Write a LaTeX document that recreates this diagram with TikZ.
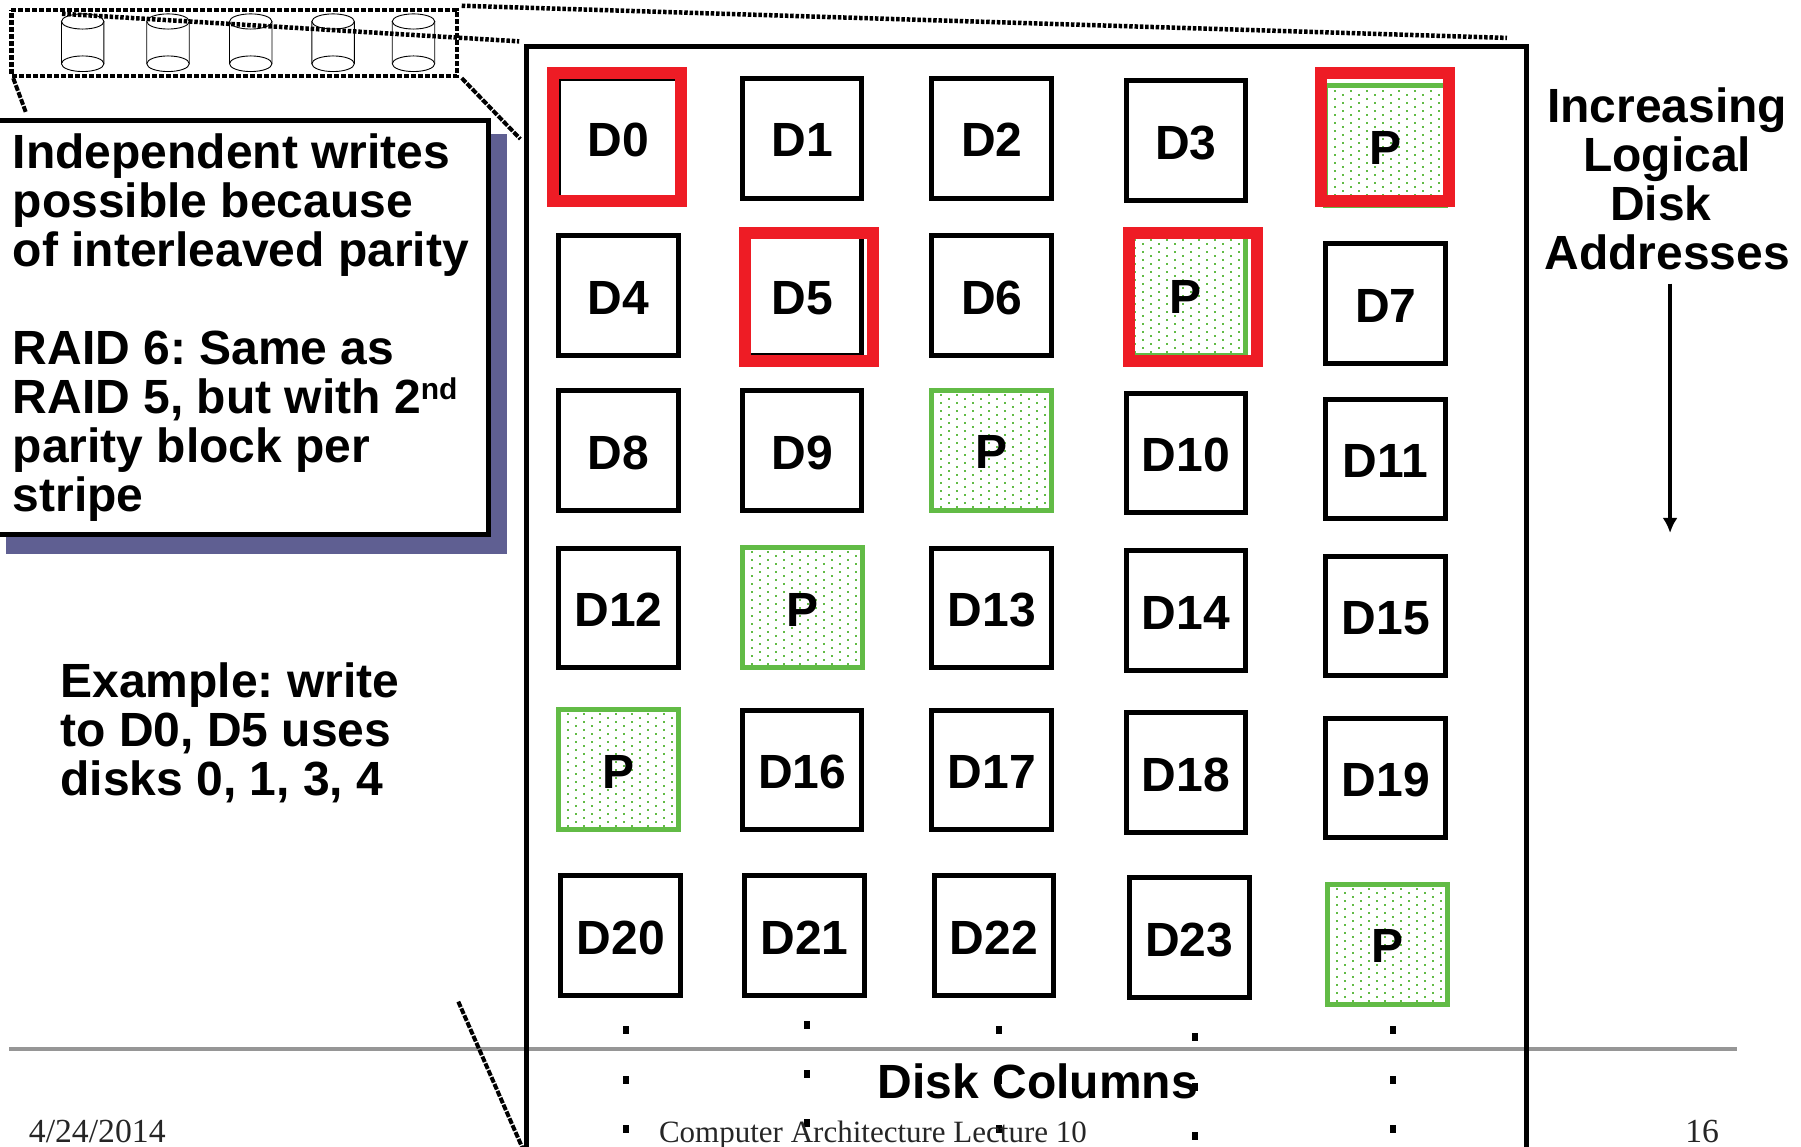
\documentclass[tikz,border=0pt]{standalone}
\usepackage{fontspec}
\usetikzlibrary{arrows.meta}
\setmainfont{Liberation Sans}
\newfontfamily\footfont{Liberation Serif}
\definecolor{raidred}{HTML}{EE1C25}
\definecolor{raidgreen}{HTML}{62BB46}
\definecolor{shadowblue}{HTML}{5F5F92}
\definecolor{rulegray}{HTML}{969696}
\frenchspacing
\tikzset{
  big/.style={font=\fontsize{48}{49}\selectfont\bfseries},
  dbox/.style={draw=black,line width=5pt,minimum size=119.5pt,inner sep=0pt,big,fill=white,text height=37.4pt,text depth=0pt},
  pbox/.style={draw=raidgreen,line width=5pt,minimum size=120pt,inner sep=0pt,big,text height=37.4pt,text depth=0pt,
    path picture={\foreach \i in {-4,...,4}\foreach \j in {-8,...,8}{
      \fill[raidgreen] ([xshift=\i*16pt-3.5pt,yshift=-\j*8pt-1.7pt]path picture bounding box.center) rectangle ++(2pt,2pt);
      \fill[raidgreen] ([xshift=\i*16pt+4.5pt,yshift=-\j*8pt-5.7pt]path picture bounding box.center) rectangle ++(2pt,2pt);}}},
  redframe/.style={draw=raidred,line width=12pt,minimum size=128pt,inner sep=0pt},
  disk/.style={draw=black,line width=0.9pt},
  selbox/.style={draw=black,line width=4.5pt,dash pattern=on 5pt off 2pt},
  dotline/.style={draw=black,line width=4.5pt,dash pattern=on 3.5pt off 1.8pt},
  diagline/.style={draw=black,line width=4pt,dash pattern=on 6pt off 1.5pt},
  panel/.style={draw=black,line width=5pt,fill=white,minimum width=501pt,minimum height=414.5pt,inner sep=0pt},
  shadow/.style={fill=shadowblue,minimum width=501.3pt,minimum height=420pt,inner sep=0pt},
  frameline/.style={draw=black,line width=5pt},
  vdot/.style={fill=black,minimum width=6pt,minimum height=8pt,inner sep=0pt},
  foot/.style={font=\fontsize{33.7}{35}\selectfont\footfont,text=black!85},
  foottitle/.style={font=\fontsize{31}{33}\selectfont\footfont,text=black!85},
}
\begin{document}
\begin{tikzpicture}[x=1.1486pt,y=-1.1486pt]
\useasboundingbox (0,0) rectangle (1568,998.6);
% footer rule
\coordinate (ruleL) at (8,913.5); \coordinate (ruleR) at (1512,913.5);
\draw[rulegray,line width=3.6pt] (ruleL) -- (ruleR);
% big frame
\coordinate (fBL) at (458.5,1010); \coordinate (fTL) at (458.5,40.5);
\coordinate (fTR) at (1329,40.5); \coordinate (fBR) at (1329,1010);
\draw[frameline] (fBL) -- (fTL) -- (fTR) -- (fBR);
% left panel
\node[shadow] (shad) at (223.4,299.5) {};
\node[panel] (pan) at (207.6,285.3) {};
\node[big,anchor=north west,align=left,inner sep=0pt] (pantext) at (11,116) {Independent writes\\possible because\\of interleaved parity\\[49pt]RAID 6: Same as\\RAID 5, but with 2\raisebox{14pt}{\fontsize{30}{30}\selectfont nd}\\parity block per\\stripe};
\node[big,anchor=north west,align=left,inner sep=0pt] (example) at (52.5,577) {Example: write\\to D0, D5 uses\\disks 0, 1, 3, 4};
% disks
\foreach \n/\x in {a/72,b/146.3,c/218.3,d/290,e/360}{
  \draw[disk] (\x-18.5,18.7) -- (\x-18.5,55.5) arc[start angle=180,end angle=360,x radius=18.5,y radius=-6.8]
     -- (\x+18.5,18.7);
  \draw[disk] (\x-18.5,55.5) arc[start angle=180,end angle=0,x radius=18.5,y radius=-6.8];
  \draw[disk] (\x,18.7) ellipse[x radius=18.5,y radius=6.6];
}
% selection
\coordinate (sTL) at (10,8.5); \coordinate (sTR) at (398,8.5);
\coordinate (sBR) at (398,66); \coordinate (sBL) at (10,66);
\draw[selbox] (sTL) -- (sTR) -- (sBR) -- (sBL) -- cycle;
\coordinate (dA) at (402,5); \coordinate (dB) at (1312,33);
\coordinate (dC) at (54,12); \coordinate (dD) at (452,36);
\draw[dotline] (dA) -- (dB);
\draw[dotline] (dC) -- (dD);
\coordinate (gA) at (11.5,68); \coordinate (gB) at (22.6,98);
\coordinate (gC) at (402,68); \coordinate (gD) at (453,121);
\coordinate (gE) at (399,872); \coordinate (gF) at (456,1002);
\draw[diagline] (gA) -- (gB);
\draw[diagline] (gC) -- (gD);
\draw[diagline] (gE) -- (gF);
% boxes
\foreach \nm/\x/\y in {D0/538/120,D1/698/120,D2/863/120,D3/1032/122,
  D4/538/257,D5/698/257,D6/863/257,D7/1206/264,
  D8/538/392,D9/698/392,D10/1032/394,D11/1206/399,
  D12/538/529,D13/863/529,D14/1032/531,D15/1206/536,
  D16/698/670,D17/863/670,D18/1032/672,D19/1206/677,
  D20/540/814,D21/700/814,D22/865/814,D23/1035/816}
  \node[dbox] (\nm) at (\x+0.4,\y+0.4) {\nm};
\foreach \nm/\x/\y in {Pa/1206/127,Pb/1032/257,Pc/863/392,Pd/698/529,Pe/538/670,Pf/1208/822}
  \node[pbox] (\nm) at (\x+0.4,\y) {P};
% red frames
\node[redframe] (r0) at (537,119) {};
\node[redframe] (r5) at (704,258.5) {};
\node[redframe] (rb) at (1038.5,258.5) {};
\node[redframe] (ra) at (1206,119) {};
% ellipsis dots
\foreach \x/\y in {545/897,703/892,870/897,1040/903,1213/897}
  \foreach \k in {0,43,86}
    \node[vdot] at (\x,\y+\k) {};
% labels
\node[big,align=center,inner sep=0pt,anchor=north] (addr) at (1451.5,76) {Increasing\\Logical\\Disk\hspace*{12.6pt}\mbox{}\\Addresses};
\coordinate (arT) at (1454,247); \coordinate (arB) at (1454,464);
\draw[line width=4pt,-{Latex[length=15pt,width=15pt]}] (arT) -- (arB);
\node[big,inner sep=0pt] (cols) at (903.5,941.5) {Disk Columns};
\node[foot,anchor=base west,inner sep=0pt] (fdate) at (25,995) {4/24/2014};
\node[foottitle,anchor=base,inner sep=0pt] (ftitle) at (760,995) {Computer Architecture Lecture 10};
\node[foot,anchor=base,inner sep=0pt] (fpage) at (1482,995) {16};
\end{tikzpicture}
\end{document}
